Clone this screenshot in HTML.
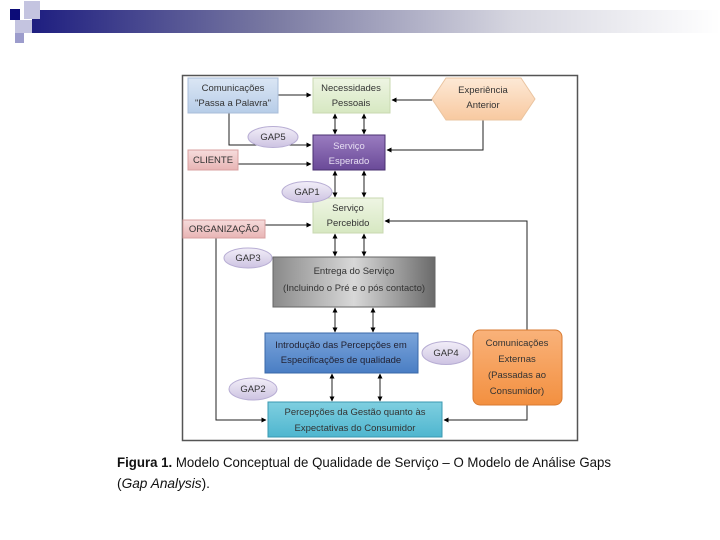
<!DOCTYPE html>
<html><head><meta charset="utf-8"><style>
html,body{margin:0;padding:0;background:#fff;}
svg{display:block;}
</style></head><body>
<svg width="720" height="540" viewBox="0 0 720 540" xmlns="http://www.w3.org/2000/svg" font-family="Liberation Sans, Arial, sans-serif">
<defs>
<linearGradient id="bar" x1="0" x2="1" y1="0" y2="0">
<stop offset="0" stop-color="#1e1e80"/><stop offset="0.35" stop-color="#7a7aa2"/><stop offset="0.7" stop-color="#d6d6e0"/><stop offset="1" stop-color="#fff"/></linearGradient>
<linearGradient id="blue1" x1="0" y1="0" x2="0" y2="1"><stop offset="0" stop-color="#dbe6f4"/><stop offset="1" stop-color="#b7cde8"/></linearGradient>
<linearGradient id="green" x1="0" y1="0" x2="0" y2="1"><stop offset="0" stop-color="#eef5e3"/><stop offset="1" stop-color="#d7e8c2"/></linearGradient>
<linearGradient id="peach" x1="0" y1="0" x2="0" y2="1"><stop offset="0" stop-color="#fde9d6"/><stop offset="1" stop-color="#f8c9a0"/></linearGradient>
<linearGradient id="purple" x1="0" y1="0" x2="0" y2="1"><stop offset="0" stop-color="#9a7cc0"/><stop offset="1" stop-color="#6a4a98"/></linearGradient>
<linearGradient id="red" x1="0" y1="0" x2="0" y2="1"><stop offset="0" stop-color="#f6dcdc"/><stop offset="1" stop-color="#e8b4b4"/></linearGradient>
<linearGradient id="gray" x1="0" y1="0" x2="1" y2="0"><stop offset="0" stop-color="#8a8a8a"/><stop offset="0.5" stop-color="#d8d8d8"/><stop offset="1" stop-color="#6a6a6a"/></linearGradient>
<linearGradient id="blue2" x1="0" y1="0" x2="0" y2="1"><stop offset="0" stop-color="#7aa4da"/><stop offset="1" stop-color="#4a7ec4"/></linearGradient>
<linearGradient id="orange" x1="0" y1="0" x2="0" y2="1"><stop offset="0" stop-color="#f9b27a"/><stop offset="1" stop-color="#f39040"/></linearGradient>
<linearGradient id="cyan" x1="0" y1="0" x2="0" y2="1"><stop offset="0" stop-color="#7fcfe0"/><stop offset="1" stop-color="#4fb6cf"/></linearGradient>
<linearGradient id="ell" x1="0" y1="0" x2="0" y2="1"><stop offset="0" stop-color="#f2eef8"/><stop offset="1" stop-color="#cdc3e2"/></linearGradient>
<marker id="a" viewBox="0 0 10 10" refX="9" refY="5" markerWidth="5" markerHeight="5" orient="auto-start-reverse"><path d="M0,0L10,5L0,10z" fill="#000"/></marker>
</defs>
<rect x="32" y="10" width="688" height="23" fill="url(#bar)"/>
<rect x="24" y="1" width="16" height="18" fill="#c4c4e0"/>
<rect x="15" y="20" width="17" height="13" fill="#c4c4e0"/>
<rect x="15" y="33" width="9" height="10" fill="#9c9ccc"/>
<rect x="10" y="9" width="10" height="11" fill="#0c0c78"/>
<rect x="182.5" y="75.5" width="395" height="365" fill="#fff" stroke="#555" stroke-width="1.5"/>
<g stroke="#222" stroke-width="1" fill="none">
<line x1="278" y1="95" x2="311" y2="95" marker-end="url(#a)"/>
<line x1="432" y1="100" x2="392" y2="100" marker-end="url(#a)"/>
<polyline points="229,113 229,145 311,145" marker-end="url(#a)"/>
<line x1="238" y1="164" x2="311" y2="164" marker-end="url(#a)"/>
<polyline points="483,120 483,150 387,150" marker-end="url(#a)"/>
<line x1="265" y1="225" x2="311" y2="225" marker-end="url(#a)"/>
<polyline points="216,238 216,420 266,420" marker-end="url(#a)"/>
<polyline points="527,330 527,221 385,221" marker-end="url(#a)"/>
<polyline points="527,405 527,420 444,420" marker-end="url(#a)"/>
<line x1="335" y1="114" x2="335" y2="134" marker-start="url(#a)" marker-end="url(#a)"/>
<line x1="364" y1="114" x2="364" y2="134" marker-start="url(#a)" marker-end="url(#a)"/>
<line x1="335" y1="171" x2="335" y2="197" marker-start="url(#a)" marker-end="url(#a)"/>
<line x1="364" y1="171" x2="364" y2="197" marker-start="url(#a)" marker-end="url(#a)"/>
<line x1="335" y1="234" x2="335" y2="256" marker-start="url(#a)" marker-end="url(#a)"/>
<line x1="364" y1="234" x2="364" y2="256" marker-start="url(#a)" marker-end="url(#a)"/>
<line x1="335" y1="308" x2="335" y2="332" marker-start="url(#a)" marker-end="url(#a)"/>
<line x1="373" y1="308" x2="373" y2="332" marker-start="url(#a)" marker-end="url(#a)"/>
<line x1="332" y1="374" x2="332" y2="401" marker-start="url(#a)" marker-end="url(#a)"/>
<line x1="380" y1="374" x2="380" y2="401" marker-start="url(#a)" marker-end="url(#a)"/>
</g>
<g font-size="9.5" text-anchor="middle" fill="#333">
<rect x="188" y="78" width="90" height="35" fill="url(#blue1)" stroke="#a8bcd8"/>
<text x="233" y="91">Comunicações</text><text x="233" y="106">"Passa a Palavra"</text>
<rect x="313" y="78" width="77" height="35" fill="url(#green)" stroke="#c8d8b0"/>
<text x="351" y="91">Necessidades</text><text x="351" y="106">Pessoais</text>
<polygon points="432,99 446,78 521,78 535,99 521,120 446,120" fill="url(#peach)" stroke="#eac4a0"/>
<text x="483" y="93">Experiência</text><text x="483" y="108">Anterior</text>
<rect x="313" y="135" width="72" height="35" fill="url(#purple)" stroke="#4a3070"/>
<text x="349" y="149" fill="#e6ddf2">Serviço</text><text x="349" y="164" fill="#e6ddf2">Esperado</text>
<rect x="188" y="150" width="50" height="20" fill="url(#red)" stroke="#d8a0a0"/>
<text x="213" y="163">CLIENTE</text>
<rect x="313" y="198" width="70" height="35" fill="url(#green)" stroke="#c8d8b0"/>
<text x="348" y="211">Serviço</text><text x="348" y="226">Percebido</text>
<rect x="183" y="220" width="82" height="18" fill="url(#red)" stroke="#d8a0a0"/>
<text x="224" y="232">ORGANIZAÇÃO</text>
<rect x="273" y="257" width="162" height="50" fill="url(#gray)" stroke="#666"/>
<text x="354" y="274">Entrega do Serviço</text><text x="354" y="291">(Incluindo o Pré e o pós contacto)</text>
<rect x="265" y="333" width="153" height="40" fill="url(#blue2)" stroke="#3a68a8"/>
<text x="341" y="348" fill="#223">Introdução das Percepções em</text><text x="341" y="363" fill="#223">Especificações de qualidade</text>
<rect x="473" y="330" width="89" height="75" rx="7" fill="url(#orange)" stroke="#d87a30"/>
<text x="517" y="346">Comunicações</text><text x="517" y="362">Externas</text><text x="517" y="378">(Passadas ao</text><text x="517" y="394">Consumidor)</text>
<rect x="268" y="402" width="174" height="35" fill="url(#cyan)" stroke="#3a98b0"/>
<text x="355" y="415">Percepções da Gestão quanto às</text><text x="355" y="431">Expectativas do Consumidor</text>
<g stroke="#b8aed4">
<ellipse cx="273" cy="137" rx="25" ry="10.5" fill="url(#ell)"/>
<ellipse cx="307" cy="192" rx="25" ry="10.5" fill="url(#ell)"/>
<ellipse cx="248" cy="258" rx="24" ry="10" fill="url(#ell)"/>
<ellipse cx="446" cy="353" rx="24" ry="11.5" fill="url(#ell)"/>
<ellipse cx="253" cy="389" rx="24" ry="11" fill="url(#ell)"/>
</g>
<text x="273" y="140">GAP5</text><text x="307" y="195">GAP1</text><text x="248" y="261">GAP3</text><text x="446" y="356">GAP4</text><text x="253" y="392">GAP2</text>
</g>
<text x="117" y="467" font-size="14" fill="#111" textLength="494" lengthAdjust="spacingAndGlyphs"><tspan font-weight="bold">Figura 1.</tspan> Modelo Conceptual de Qualidade de Serviço – O Modelo de Análise Gaps</text>
<text x="117" y="488" font-size="14" fill="#111" textLength="93" lengthAdjust="spacingAndGlyphs">(<tspan font-style="italic">Gap Analysis</tspan>).</text>
</svg>
</body></html>
